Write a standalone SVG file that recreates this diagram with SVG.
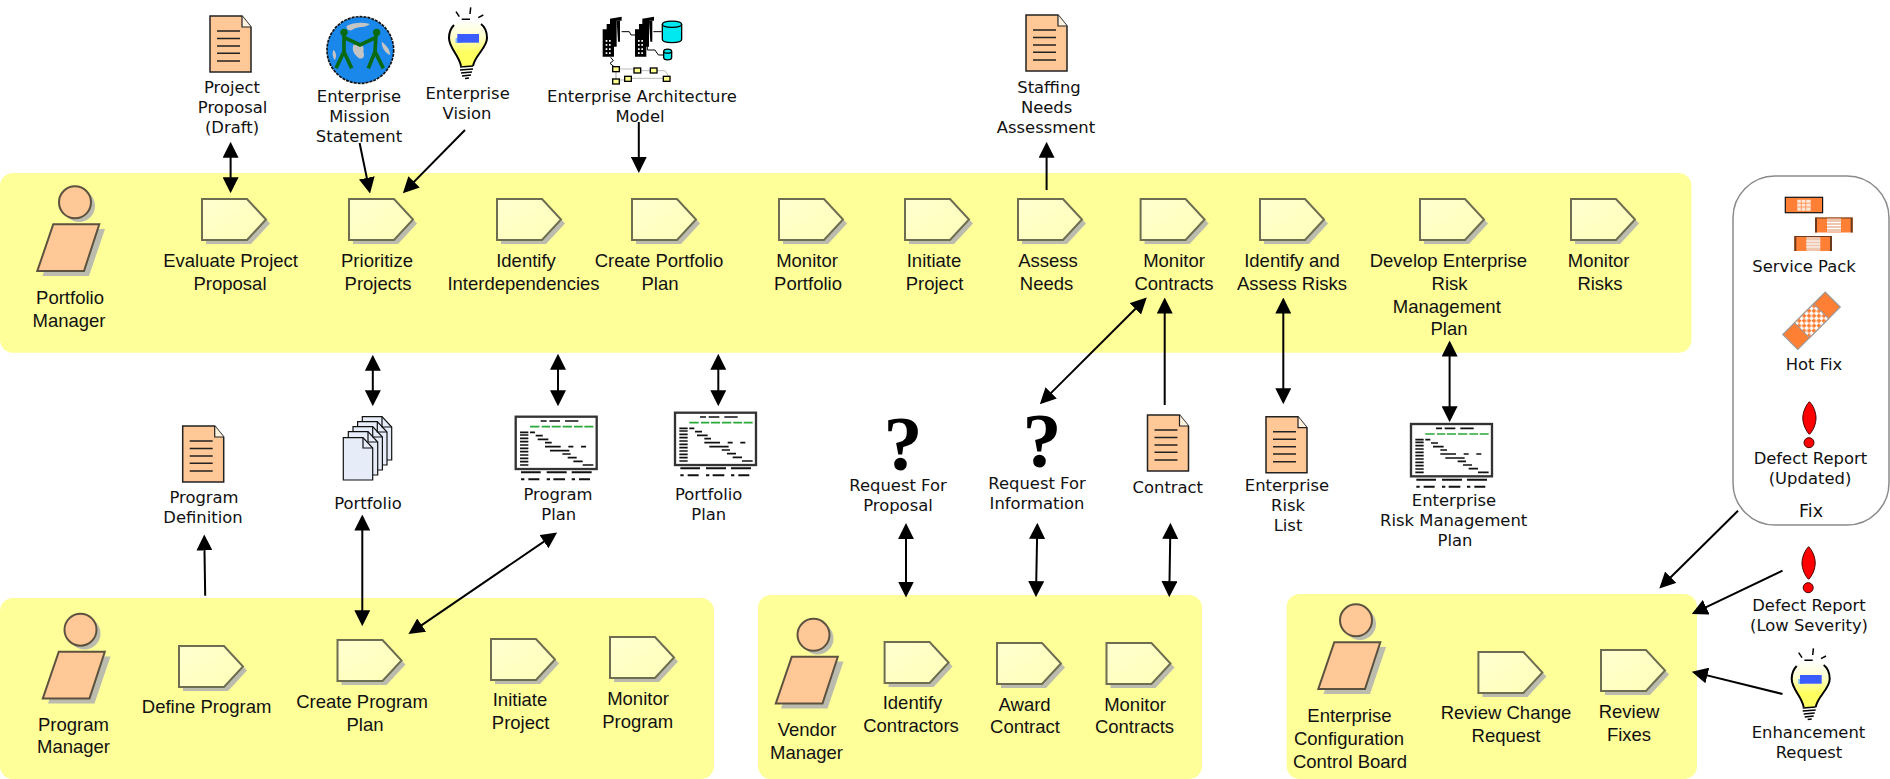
<svg xmlns="http://www.w3.org/2000/svg" width="1890" height="779" viewBox="0 0 1890 779">
<style>
text{font-family:"DejaVu Sans","Liberation Sans",sans-serif;fill:#111;text-anchor:middle}
.in{font-family:"Liberation Sans",Arial,sans-serif;font-size:18.500px}
.out{font-size:16.400px}
.band{fill:#ffff99}
.con{stroke:#000;stroke-width:2;fill:none}
.one{marker-end:url(#ah)}
.two{marker-end:url(#ah);marker-start:url(#ah)}
.shade{fill:#bcbcae}
.task{fill:url(#tg);stroke:#6d6d52;stroke-width:2}
.skin{fill:#ffc896;stroke:#5c5240;stroke-width:2}
.docf{fill:#ffc896;stroke:#222;stroke-width:1.5}
.docl{stroke:#222;stroke-width:1.6}
.page{fill:#e6ecf8;stroke:#111;stroke-width:1.2}
.ex{fill:#f00;stroke:#400;stroke-width:1}
.q{font-family:"Liberation Serif",serif;font-weight:bold;font-size:78px;fill:#000}
.blk{stroke:#111;stroke-width:5;fill:none}
.grn{stroke:#2aa838;stroke-width:5;fill:none}
</style>
<defs>
<linearGradient id="tg" x1="0" y1="0" x2="1" y2="1"><stop offset="0" stop-color="#ffffd0"/><stop offset="1" stop-color="#ffffb8"/></linearGradient>
<linearGradient id="bg" x1="0" y1="0" x2="0" y2="1"><stop offset="0" stop-color="#ffffff"/><stop offset=".35" stop-color="#ffffd0"/><stop offset=".7" stop-color="#ffff60"/></linearGradient>
<pattern id="dots" width="7" height="7" patternUnits="userSpaceOnUse"><rect width="7" height="7" fill="#fff"/><rect width="3.500" height="3.500" fill="#ff7f35"/><rect x="3.500" y="3.500" width="3.500" height="3.500" fill="#ff7f35"/></pattern>
<marker id="ah" markerUnits="userSpaceOnUse" markerWidth="16" markerHeight="16" viewBox="0 0 15 15" refX="12" refY="7.500" orient="auto-start-reverse"><path d="M0 0L15 7.500L0 15Z" fill="#000"/></marker>
<g id="taskshape"><path class="shade" d="M4 4H49L68 24.500L49 45H4Z"/><path class="task" d="M0 0H45L64 20.500L45 41H0Z"/></g>
<g id="actor"><circle class="shade" cx="79" cy="206" r="16"/><path class="shade" d="M58.500 229H105L89 276H42.500Z"/><circle class="skin" cx="75" cy="202.300" r="16"/><path class="skin" d="M53.300 224.300H99.300L84 271H37.300Z"/></g>
<g id="doc"><path class="docf" d="M0 0H32L41 11V56H0Z"/><path d="M32 0V11H41" fill="#fff3e0" stroke="#222" stroke-width="1.200"/><path class="docl" d="M7 15H30M7 22.500H30M7 30H30M7 37.300H30M7 45H30"/></g>
<g id="gantt" transform="scale(.3333)"><rect x="0" y="0" width="243" height="157" fill="#fff" stroke="#333" stroke-width="7"/>
<path class="blk" d="M75 13H93M101 13H133M148 13H188"/><path class="grn" d="M43 30H71M78 30H103M108 30H135M141 30H169M175 30H201M206 30H233"/>
<path class="blk" d="M13 47H38M13 55H38M13 65H38M13 75H38M13 85H38M13 95H38M13 105H38M13 115H38M13 125H38M13 135H38M13 145H38M43 47H58M60 57H81M66 68H98M88 78H108M88 90H118M118 90H135M158 90H173M196 90H211M103 102H161M140 112H165M156 123H183M173 134H201M201 145H233"/>
<path d="M16 167H75M93 167H153M168 167H228M16 188H26M38 188H71M93 188H103M113 188H148M168 188H178M190 188H223" stroke="#111" stroke-width="6" fill="none"/></g>
<g id="ex"><path class="ex" d="M1809.400 401.700C1813 405 1816 412 1816 418C1816 424 1813 431 1809.400 434.300C1806 431 1802.800 424 1802.800 418C1802.800 412 1806 405 1809.400 401.700Z"/><circle class="ex" cx="1809" cy="442.700" r="5"/></g>
<g id="bulb"><path d="M460 66C459 55 449 48 449 38C449 27 457 20 468 20C479 20 487 27 487 38C487 48 475 55 473 66Z" fill="url(#bg)"/>
<path d="M461 66C459 55 449 48 449 38C449 33 451 28 454 25M481 24C485 27 487 32 487 38C487 48 475 55 473 66" fill="none" stroke="#000" stroke-width="2"/>
<path d="M456 11.700L459.300 16.700M470.700 7.300L470 14M483.300 15L478.300 17.700M461.700 19.300H470" stroke="#000" stroke-width="1.500"/>
<path d="M460 67L473 66M460 70L473 69M461 73L472 72M462 76L471 75M465 78.500L469 78" stroke="#000" stroke-width="1.700"/>
<rect x="455.500" y="38" width="6" height="5" fill="#7fc0ff"/><rect x="457.300" y="34" width="21.700" height="8.700" fill="#3b5cff"/></g>
<g id="svcA"><rect x="0" y="0" width="37.300" height="15.400" fill="#ff7f35" stroke="#111" stroke-width="1.200"/><rect x="12" y="2.500" width="13.400" height="11" fill="#ffe6d6"/><path d="M16 2.500V13.500M20.500 2.500V13.500M12 6H25.400M12 9.700H25.400" stroke="#ff9a60" stroke-width="1"/></g>
<g id="svcB"><rect x="0" y="0" width="37.700" height="15" fill="#ff7f35"/><path d="M0 0H37.700V1H0ZM0 0H2V15H0ZM35.700 0H37.700V15H35.700Z" fill="#6b3a1c"/><rect x="12" y="1" width="14" height="14" fill="#eec6ae"/><path d="M12 5H26M12 8H26M12 11H26" stroke="#fff" stroke-width="1"/></g>
</defs>

<g id="swimlanes">
<rect class="band" x="0" y="173" width="1691.500" height="179.700" rx="13"/>
<rect class="band" x="0" y="598" width="714" height="181" rx="13"/>
<rect class="band" x="758" y="595" width="444" height="184" rx="13"/>
<rect class="band" x="1286.600" y="594" width="410.400" height="185" rx="13"/>
</g>

<g id="n-portfolio-manager"><use href="#actor"/><text class="in" x="70" y="304">Portfolio</text><text class="in" x="69" y="327">Manager</text></g>
<g id="n-evaluate"><use href="#taskshape" x="202" y="199"/><text class="in" x="230.600" y="267">Evaluate Project</text><text class="in" x="230" y="290">Proposal</text></g>
<g id="n-prioritize"><use href="#taskshape" x="349" y="199"/><text class="in" x="377" y="267">Prioritize</text><text class="in" x="378" y="290">Projects</text></g>
<g id="n-identify-inter"><use href="#taskshape" x="497" y="199"/><text class="in" x="526" y="267">Identify</text><text class="in" x="523.500" y="290">Interdependencies</text></g>
<g id="n-create-portfolio"><use href="#taskshape" x="632" y="199"/><text class="in" x="659" y="267">Create Portfolio</text><text class="in" x="660" y="290">Plan</text></g>
<g id="n-monitor-portfolio"><use href="#taskshape" x="779" y="199"/><text class="in" x="807" y="267">Monitor</text><text class="in" x="808" y="290">Portfolio</text></g>
<g id="n-initiate"><use href="#taskshape" x="905" y="199"/><text class="in" x="934" y="267">Initiate</text><text class="in" x="934.500" y="290">Project</text></g>
<g id="n-assess"><use href="#taskshape" x="1018" y="199"/><text class="in" x="1048" y="267">Assess</text><text class="in" x="1046.600" y="290">Needs</text></g>
<g id="n-monitor-contracts"><use href="#taskshape" x="1140.600" y="199"/><text class="in" x="1174" y="267">Monitor</text><text class="in" x="1174" y="290">Contracts</text></g>
<g id="n-identify-risks"><use href="#taskshape" x="1260" y="199"/><text class="in" x="1292" y="267">Identify and</text><text class="in" x="1292" y="290">Assess Risks</text></g>
<g id="n-develop-risk"><use href="#taskshape" x="1420" y="199"/><text class="in" x="1448.400" y="267">Develop Enterprise</text><text class="in" x="1449.600" y="290">Risk</text><text class="in" x="1446.800" y="312.700">Management</text><text class="in" x="1449" y="335">Plan</text></g>
<g id="n-monitor-risks"><use href="#taskshape" x="1571" y="199"/><text class="in" x="1598.700" y="267">Monitor</text><text class="in" x="1600" y="290">Risks</text></g>

<g id="n-program-manager"><use href="#actor" x="5.500" y="427.400"/><text class="in" x="73.500" y="731">Program</text><text class="in" x="73.500" y="753">Manager</text></g>
<g id="n-define-program"><use href="#taskshape" x="179" y="646"/><text class="in" x="206.600" y="712.700">Define Program</text></g>
<g id="n-create-program"><use href="#taskshape" x="337.500" y="640"/><text class="in" x="362" y="708">Create Program</text><text class="in" x="365" y="731">Plan</text></g>
<g id="n-initiate-2"><use href="#taskshape" x="491" y="639"/><text class="in" x="520" y="706">Initiate</text><text class="in" x="520.600" y="729">Project</text></g>
<g id="n-monitor-program"><use href="#taskshape" x="610" y="637"/><text class="in" x="638" y="705">Monitor</text><text class="in" x="637.700" y="728">Program</text></g>

<g id="n-vendor-manager"><use href="#actor" x="738.500" y="432.500"/><text class="in" x="807" y="736">Vendor</text><text class="in" x="806.500" y="758.700">Manager</text></g>
<g id="n-identify-contractors"><use href="#taskshape" x="884.600" y="642"/><text class="in" x="912.500" y="709">Identify</text><text class="in" x="911" y="732">Contractors</text></g>
<g id="n-award"><use href="#taskshape" x="997" y="643"/><text class="in" x="1024.600" y="711">Award</text><text class="in" x="1025" y="733">Contract</text></g>
<g id="n-monitor-contracts-2"><use href="#taskshape" x="1106.500" y="643"/><text class="in" x="1135" y="711">Monitor</text><text class="in" x="1134.500" y="733">Contracts</text></g>

<g id="n-eccb"><use href="#actor" x="1281" y="418"/><text class="in" x="1349.500" y="721.700">Enterprise</text><text class="in" x="1349" y="745">Configuration</text><text class="in" x="1350" y="767.700">Control Board</text></g>
<g id="n-review-change"><use href="#taskshape" x="1478.400" y="652"/><text class="in" x="1506" y="719">Review Change</text><text class="in" x="1506" y="741.700">Request</text></g>
<g id="n-review-fixes"><use href="#taskshape" x="1601" y="650"/><text class="in" x="1629" y="718">Review</text><text class="in" x="1629" y="741">Fixes</text></g>

<g id="a-project-proposal"><use href="#doc" x="210" y="16"/><text class="out" x="232" y="93">Project</text><text class="out" x="232.600" y="113">Proposal</text><text class="out" x="232" y="133">(Draft)</text></g>
<g id="a-mission"><g transform="translate(320 0) scale(.3333)"><circle cx="121" cy="150" r="100" fill="#1a88ea" stroke="#111" stroke-width="5" stroke-dasharray="9 3"/>
<path d="M80 78C100 68 125 66 150 72C135 85 115 78 100 88C90 95 78 90 80 78ZM100 135C120 128 135 135 130 155C138 175 120 182 112 170C102 162 95 150 100 135ZM185 125C198 135 212 150 210 165C198 160 185 145 185 125ZM40 150C50 155 50 175 44 180C38 172 36 160 40 150Z" fill="#c4c4c4"/>
<g fill="none" stroke="#0a6a10" stroke-width="11"><path d="M72 105V155L48 205M72 155L95 205M72 112L120 135L168 112M168 105L165 155L145 205M165 155L190 205"/></g>
<circle cx="72" cy="97" r="11" fill="#0a6a10"/><circle cx="170" cy="97" r="11" fill="#0a6a10"/></g>
<text class="out" x="359" y="102">Enterprise</text><text class="out" x="359.600" y="122">Mission</text><text class="out" x="359" y="142">Statement</text></g>
<g id="a-vision"><use href="#bulb"/><text class="out" x="467.600" y="99">Enterprise</text><text class="out" x="467" y="119">Vision</text></g>
<g id="a-architecture"><g transform="translate(590 0) scale(.3333)">
<g id="bldg"><path d="M38 170V88H50V72H60V56L95 50V62H80V140H72V170Z" fill="#000"/><path d="M80 62H90V125H84Z" fill="#000"/><path d="M47 120H52V125H47ZM57 120H62V125H57ZM47 132H52V137H47ZM57 132H62V137H57ZM47 145H52V150H47ZM57 145H62V150H57ZM47 157H52V162H47ZM57 157H62V162H57Z" fill="#fff"/></g>
<use href="#bldg" x="97"/>
<path d="M95 95H118L123 105H135M190 95H215M172 125V150H195L205 165H220M62 172L70 182L60 190L72 200" fill="none" stroke="#000" stroke-width="3"/>
<path d="M78 207H130L145 212H225L240 235H115L100 240H78" fill="none" stroke="#bbb" stroke-width="3"/>
<path d="M78 207V243" fill="none" stroke="#777" stroke-width="2"/>
<g fill="#00e8f0" stroke="#000" stroke-width="4"><path d="M217 73C217 60 275 60 275 73V118C275 131 217 131 217 118Z"/><path d="M217 73C217 85 275 85 275 73" fill="none"/><path d="M221 155C221 145 245 145 245 155V172C245 182 221 182 221 172Z"/><path d="M221 155C221 161 245 161 245 155" fill="none"/></g>
<g fill="#ffff90" stroke="#000" stroke-width="4"><rect x="68" y="200" width="20" height="15"/><rect x="132" y="204" width="20" height="15"/><rect x="181" y="204" width="20" height="15"/><rect x="220" y="229" width="20" height="15"/><rect x="104" y="229" width="20" height="15"/><rect x="68" y="237" width="20" height="15"/></g></g>
<text class="out" x="642" y="102">Enterprise Architecture</text><text class="out" x="640" y="122">Model</text></g>
<g id="a-staffing"><use href="#doc" x="1026" y="15"/><text class="out" x="1049" y="93">Staffing</text><text class="out" x="1046.600" y="113">Needs</text><text class="out" x="1046" y="133">Assessment</text></g>
<g id="a-program-definition"><use href="#doc" x="182.700" y="426"/><text class="out" x="204" y="503">Program</text><text class="out" x="203" y="523">Definition</text></g>
<g id="a-portfolio"><g id="stack"><path class="page" d="M362.300 416.700H382L391.700 427V460H362.300Z"/><path class="page" d="M357.600 421.700H377.300L387 432V465H357.600Z"/><path class="page" d="M353 426.700H372.700L382.400 437V470H353Z"/><path class="page" d="M348.300 431.700H368L377.700 442V475H348.300Z"/><path class="page" d="M343.300 437.700H363L372.700 448V480H343.300Z"/><path d="M363 437.700V448H372.700M368 431.700V442H377.700M372.700 426.700V437H382.400M377.300 421.700V432H387M382 416.700V427H391.700" fill="none" stroke="#111" stroke-width="1.200"/></g><text class="out" x="368" y="509">Portfolio</text></g>
<g id="a-program-plan"><use href="#gantt" transform="translate(515.700 416.700)"/><text class="out" x="558" y="500">Program</text><text class="out" x="558.800" y="520">Plan</text></g>
<g id="a-portfolio-plan"><use href="#gantt" transform="translate(675 412.700)"/><text class="out" x="708.700" y="500">Portfolio</text><text class="out" x="708.700" y="520">Plan</text></g>
<g id="a-rfp"><text class="q" x="903" y="470">?</text><text class="out" x="898" y="491">Request For</text><text class="out" x="898" y="511">Proposal</text></g>
<g id="a-rfi"><text class="q" x="1042" y="466.700">?</text><text class="out" x="1037" y="489">Request For</text><text class="out" x="1037" y="509">Information</text></g>
<g id="a-contract"><use href="#doc" x="1147.500" y="415"/><text class="out" x="1167.800" y="493">Contract</text></g>
<g id="a-risk-list"><use href="#doc" x="1266" y="416.700"/><text class="out" x="1287" y="491">Enterprise</text><text class="out" x="1288" y="511">Risk</text><text class="out" x="1288" y="531">List</text></g>
<g id="a-risk-plan"><use href="#gantt" transform="translate(1411 424)"/><text class="out" x="1454" y="506">Enterprise</text><text class="out" x="1453.700" y="526">Risk Management</text><text class="out" x="1455" y="546">Plan</text></g>
<g id="a-fix"><rect x="1733" y="176" width="156" height="349" rx="42" fill="#fff" stroke="#8a8a8a" stroke-width="1.500"/>
<use href="#svcA" x="1785.300" y="197.300"/><use href="#svcB" x="1815" y="217.500"/><use href="#svcB" x="1794.300" y="236"/>
<text class="out" x="1804" y="272">Service Pack</text>
<g transform="translate(1811.500 320.800) rotate(-45)"><rect x="-30" y="-10.600" width="60" height="21.200" fill="#ff7f35" stroke="#999" stroke-width="1.200"/><rect x="-13.500" y="-10.600" width="27" height="21.200" fill="url(#dots)" stroke="#999" stroke-width="1"/></g>
<text class="out" x="1814" y="370">Hot Fix</text>
<use href="#ex"/>
<text class="out" x="1810.400" y="464">Defect Report</text><text class="out" x="1810" y="484">(Updated)</text>
<text class="out" x="1811" y="516.700" style="font-size:17.500px">Fix</text></g>
<g id="a-defect-low"><use href="#ex" x="-.800" y="145"/><text class="out" x="1809" y="610.700">Defect Report</text><text class="out" x="1809" y="630.700">(Low Severity)</text></g>
<g id="a-enhancement"><use href="#bulb" x="1342.700" y="641"/><text class="out" x="1808.500" y="738">Enhancement</text><text class="out" x="1809" y="758">Request</text></g>

<g id="connectors">
<path class="con two" d="M230.600 145V190"/>
<path class="con one" d="M359.600 143L369.400 190.400"/>
<path class="con one" d="M465 130L405.100 190.900"/>
<path class="con one" d="M638.800 122V169.700"/>
<path class="con one" d="M1046.600 190V145"/>
<path class="con two" d="M1144.500 299.800L1042.100 401.900"/>
<path class="con one" d="M1164.700 405V300.700"/>
<path class="con two" d="M1283.300 300.700V401"/>
<path class="con two" d="M1449.600 343.700V419"/>
<path class="con two" d="M372.800 358V403"/>
<path class="con two" d="M558 357V403"/>
<path class="con two" d="M718.300 357V403"/>
<path class="con one" d="M205.200 595.700L204.300 537.700"/>
<path class="con two" d="M362.300 517.700V623"/>
<path class="con two" d="M554.500 534.400L411.100 632.300"/>
<path class="con two" d="M906 526.300V594.300"/>
<path class="con two" d="M1037.300 526L1036 594"/>
<path class="con two" d="M1170.400 526L1169.300 594"/>
<path class="con one" d="M1738 510.700L1661.600 586.200"/>
<path class="con one" d="M1782.500 570.700L1694.700 612.700"/>
<path class="con one" d="M1782.500 694L1694.900 672.400"/>
</g>
</svg>
